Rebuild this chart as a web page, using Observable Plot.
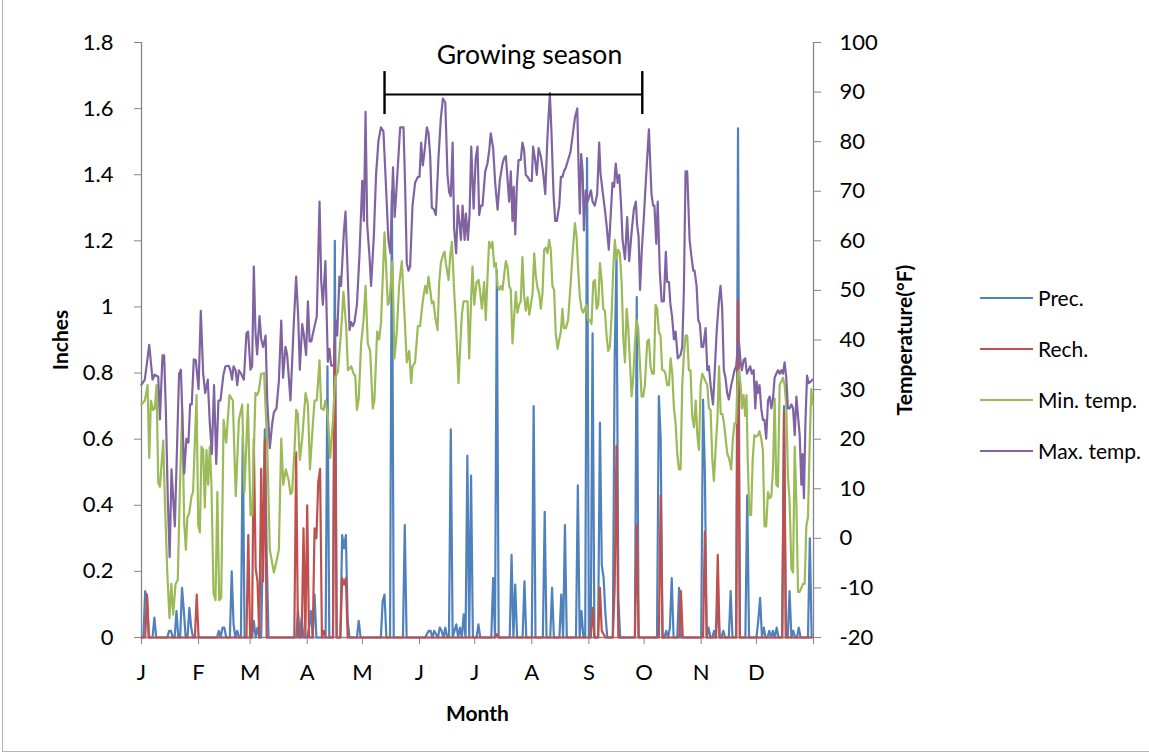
<!DOCTYPE html>
<html><head><meta charset="utf-8">
<script src="https://cdn.jsdelivr.net/npm/d3@7"></script>
<script src="https://cdn.jsdelivr.net/npm/@observablehq/plot@0.6"></script>
<style>
html,body{margin:0;padding:0;background:#fff;}
#wrap{position:relative;width:1149px;height:755px;overflow:hidden;font-family:Lato,sans-serif;}
#frame{position:absolute;left:2px;top:-2px;width:1170px;height:754px;border:1px solid #b4b4b4;box-sizing:border-box;pointer-events:none;}
#legend{position:absolute;left:0;top:0;}
.row{position:absolute;left:980px;height:24px;line-height:24px;font-size:21px;color:#000;white-space:nowrap;}
.row span.sw{position:absolute;left:0;top:11px;width:53px;height:2px;}
.row span.tx{position:absolute;left:58px;top:0;}
</style></head>
<body><div id="wrap"><div id="chart"></div><div id="legend"></div><div id="frame"></div></div>
<script>
// ---- categories / ticks ----
const monthStarts = [0,31,59,90,120,151,181,212,243,273,304,334,365];
const monthLabels = ["J","F","M","A","M","J","J","A","S","O","N","D",""];
const inchTicks = [0,0.2,0.4,0.6,0.8,1,1.2,1.4,1.6,1.8];
const inchTickLabels = ["0","0.2","0.4","0.6","0.8","1","1.2","1.4","1.6","1.8"];
const tempTicks = [-20,-10,0,10,20,30,40,50,60,70,80,90,100];
const tempTickLabels = ["-20","-10","0","10","20","30","40","50","60","70","80","90","100"];
const seriesNames = ["Prec.","Rech.","Min. temp.","Max. temp."];
const seriesColors = ["#4F81BD","#C0504D","#9BBB59","#8064A2"];
const growingSeason = [132, 272]; // day of year
const growingLabel = "Growing season";

// ---- daily precipitation (inches): [day, value]; all other days 0 ----
const precDays = [[2,0.14],[3,0.12],[7,0.06],[15,0.02],[16,0.02],[19,0.08],[22,0.15],[23,0.08],[26,0.09],[27,0.03],[42,0.02],[44,0.03],[45,0.03],[49,0.2],[50,0.04],[52,0.02],[55,0.61],[61,0.05],[63,0.03],[66,0.3],[67,0.63],[68,0.25],[85,0.08],[87,0.06],[91,0.03],[92,0.08],[94,0.13],[101,0.82],[105,1.2],[109,0.31],[110,0.27],[111,0.31],[112,0.05],[118,0.05],[131,0.11],[132,0.13],[136,1.35],[143,0.34],[155,0.01],[156,0.02],[157,0.02],[159,0.02],[160,0.01],[162,0.03],[163,0.02],[165,0.03],[168,0.63],[170,0.02],[171,0.04],[173,0.03],[175,0.07],[177,0.55],[179,0.49],[183,0.04],[191,0.18],[193,1.11],[201,0.25],[203,0.16],[208,0.17],[213,0.7],[219,0.38],[223,0.15],[228,0.13],[230,0.34],[237,0.46],[239,0.08],[242,1.45],[245,0.92],[249,0.65],[250,0.22],[251,0.18],[252,0.07],[257,0.84],[258,1.15],[259,0.12],[269,1.03],[281,0.73],[282,0.6],[285,0.02],[287,0.03],[288,0.18],[292,0.15],[305,0.72],[306,0.5],[308,0.03],[311,0.02],[313,0.12],[316,0.02],[320,0.14],[324,1.54],[329,0.43],[335,0.05],[336,0.12],[338,0.03],[341,0.02],[343,0.02],[345,0.03],[349,0.7],[352,0.14],[354,0.02],[357,0.03],[363,0.3]];
// ---- daily recharge (inches): [day, value]; all other days 0 ----
const rechDays = [[3,0.13],[30,0.13],[58,0.31],[61,0.6],[62,0.21],[63,0.17],[65,0.51],[66,0.17],[67,0.6],[84,0.56],[88,0.33],[90,0.4],[94,0.33],[95,0.3],[96,0.47],[97,0.51],[99,0.02],[105,0.9],[109,0.18],[110,0.16],[111,0.18],[193,0.01],[245,0.09],[249,0.15],[250,0.02],[251,0.01],[257,0.15],[258,0.58],[269,0.34],[282,0.43],[293,0.14],[306,0.32],[313,0.25],[324,1.02],[349,0.68]];
// ---- min temperature (°F): [day, value] ----
const minTemp = [[0,27],[1.8,27.8],[3.3,30.9],[4.2,16.2],[5.1,27.8],[6.3,25.9],[7.2,26.2],[8.2,30.9],[9.1,11.2],[10,10.4],[11.8,19.7],[12.7,7.7],[14,-6.9],[15.2,-16.1],[16.2,-9.2],[17.2,-15.4],[18.5,-9.2],[19.7,-8.4],[20.8,9.3],[22.1,25.9],[23.2,3.1],[24.1,-2.3],[24.9,4.2],[25.9,5],[27.2,8.5],[28,9.3],[29.9,28.9],[30.8,2.7],[31.7,1.2],[32.6,18.5],[33.5,17.8],[34.4,6.2],[35.3,17.8],[36.2,10.8],[37.1,18.5],[38,10.8],[39.1,-11],[40.2,-12.5],[41.2,9.3],[42.2,-12.5],[43.3,-12],[44.6,23.9],[46,19.3],[47.8,28.9],[49.6,27.8],[51.2,8.5],[52.9,23.9],[54.7,27],[55.9,9.3],[57.8,27],[59.2,4.7],[60.1,4.7],[61.9,29.3],[62.8,28.9],[63.7,29.7],[65,33.2],[66.6,33.3],[68.3,18.5],[69.7,-2.3],[71,-5],[71.9,-6.9],[73.3,-4.6],[74.6,-2.3],[75.9,20.1],[77,10.8],[78.4,13.9],[80,11.6],[80.9,8.9],[81.8,9.3],[83.1,17.8],[84,25.9],[84.9,25.1],[86,15.8],[87.3,20.1],[89.1,29.3],[90.4,27],[91.5,13.9],[93.1,23.2],[94,27.8],[95.2,27.8],[96.7,35.9],[97.6,26.2],[98.9,25.9],[99.9,27.8],[101.2,24.7],[102.5,16.2],[104,23.9],[105.2,32.4],[106.7,33.6],[108.4,41.7],[109.7,49.7],[111.2,42.4],[112.1,33.9],[113.9,34.7],[115.2,33.2],[116.1,32.8],[117,25.9],[118,28.2],[119.3,39.3],[120.6,44],[121.7,50.9],[122.9,39.3],[124.2,37.8],[125.6,26.2],[126.5,27.8],[128,41.7],[129.1,40.1],[130.1,43.6],[132,61.7],[133.8,47.1],[134.7,47.8],[136.3,55.9],[137.4,36.3],[138.7,41.7],[139.9,50.9],[141.4,55.9],[142.9,44.7],[144.1,35.5],[145.4,37.8],[146.5,31.3],[147.2,34.7],[148.6,35.5],[150.1,42.8],[151.3,42.8],[152.3,46.3],[153.2,49],[154.1,50.9],[155,49.4],[155.9,52.8],[156.8,50.1],[157.7,47.4],[158.6,47.8],[159.5,44.7],[160.8,42],[161.7,51.7],[162.6,55.5],[163.7,57.1],[164.6,57.8],[165.3,55.5],[166.8,52.1],[167.7,57.1],[168.6,59.8],[169.8,50.1],[170.9,42.4],[172.2,31.3],[173.1,38.6],[174,45.1],[174.9,47.8],[176.2,47.8],[177.1,47.8],[178,36.3],[179.1,49],[179.8,54.8],[180.7,47.1],[182,51.7],[183.1,52.1],[183.8,50.1],[184.9,46.3],[186.1,51.7],[187,44],[187.9,52.4],[188.8,59.8],[189.7,58.6],[190.6,59.8],[191.6,54.8],[192.5,55.5],[193.4,50.9],[194.3,50.1],[195.2,50.9],[196.1,50.1],[197,53.2],[197.9,55.9],[198.8,54.8],[199.7,50.9],[200.6,50.1],[201.5,39.3],[202.4,44.7],[203.3,49.7],[204.2,45.5],[205.1,47.1],[206,47.8],[206.9,56.7],[207.8,49],[208.7,45.9],[209.7,48.6],[210.6,45.1],[211.5,47.1],[212.4,49.4],[213.3,57.5],[214.2,52.8],[215.1,50.5],[216,49.4],[216.9,46.3],[217.8,49.4],[218.7,58.2],[219.6,58.6],[220.5,57.5],[221.4,60.2],[222.3,58.2],[223.2,50.9],[224.1,50.1],[225,41.3],[226,38.2],[226.9,40.1],[227.8,41.7],[228.6,46.3],[229.4,42.4],[230.5,42.4],[231.7,44],[233,50.9],[234.1,57.1],[235.4,63.6],[236.3,60.9],[237.2,54],[238.1,48.6],[239,46.3],[239.9,45.5],[240.8,46.3],[241.7,47.1],[242.6,44],[243.5,44],[244.4,43.2],[245.4,51.7],[246.3,52.1],[247.2,46.3],[248.1,47.1],[249,55.5],[249.9,52.1],[250.8,46.3],[251.7,45.9],[252.6,40.9],[253.5,37.8],[254.4,38.6],[255.3,44.7],[256.2,54],[257.1,60.2],[258,56.3],[258.9,58.2],[259.8,57.5],[260.8,51.7],[261.7,40.1],[262.6,35.5],[263.5,46.3],[264.4,42.4],[265.3,35.5],[266.2,28.6],[267.1,32.4],[268,39.3],[268.9,44],[269.8,42.4],[270.7,35.5],[271.6,28.6],[272.5,28.6],[273.4,30.9],[274.7,39.7],[275.6,40.1],[276.5,34.7],[277.4,33.2],[278.3,33.2],[279.2,47.1],[280.1,46.3],[281,41.7],[281.9,40.9],[282.8,33.9],[283.7,33.9],[284.6,33.2],[285.5,30.9],[286.5,30.9],[287.4,36.3],[288.3,33.2],[289.2,26.2],[290.1,23.2],[291,17],[291.9,13.9],[292.8,13.9],[293.7,30.9],[294.6,37],[295.5,40.9],[296.4,40.9],[297.3,33.9],[298.2,33.9],[299.1,24.7],[300.1,22.4],[301,27.8],[301.9,20.8],[302.8,17.8],[303.7,30.9],[304.6,33.2],[305.5,32.4],[306.4,31.6],[307.3,30.9],[308.2,26.2],[309.1,25.9],[310,16.2],[310.9,11.6],[311.9,18.5],[312.8,23.9],[313.7,34.7],[314.6,25.1],[315.5,25.1],[316.4,23.2],[317.3,20.1],[318.2,17],[319.1,16.2],[320.3,13.9],[321.2,20.1],[322.1,23.2],[323,23.2],[323.9,33.2],[324.6,33.9],[325.4,30.9],[326.1,26.2],[327,28.9],[327.9,24.7],[328.6,28.9],[329.3,15.5],[330.2,4.7],[331.1,4.7],[332,16.2],[332.9,20.8],[333.8,20.5],[334.8,20.8],[335.7,21.6],[336.6,20.1],[337.5,17.8],[338.4,2.4],[339.3,2.4],[340.3,9.3],[341.2,8.1],[342.1,8.5],[343,13.9],[343.9,28.2],[344.8,10.8],[345.7,10.4],[346.6,30.9],[347.5,31.6],[348.4,32.4],[349.3,30.9],[350.2,27],[351.1,12.4],[352,7.7],[353,-6.1],[353.9,-6.9],[354.8,18.5],[355.7,7],[356.6,-10.8],[357.5,-10.8],[358.4,-10],[359.3,-9.2],[360.2,-9.2],[361.1,2.4],[362,4.3],[362.9,18.5],[363.8,30.1],[364.5,27]];
// ---- max temperature (°F): [day, value] ----
const maxTemp = [[0,31],[1.8,32],[4.2,39],[6,32],[7.2,33],[9.1,32.6],[10,24],[11.4,36.9],[12.3,36.9],[13.2,26.2],[14.3,7.7],[15.3,-3.8],[16.3,13.9],[18.1,2.4],[20.4,33.2],[21.4,34],[23.2,13.1],[24.4,20.1],[25.5,19.3],[26.4,27],[27.3,27],[28.4,36.1],[29.5,35.9],[31,30.1],[32.2,45.9],[33.5,33.2],[34.6,29.3],[36,32],[37.1,23.2],[38.2,17],[39.4,30.9],[40.6,15],[41.8,27.8],[42.9,27.8],[44.5,33],[45.6,34.7],[47.4,34.8],[48.3,33.9],[49.2,32],[50,34.7],[51.1,33.9],[52,30.9],[52.9,33.9],[54.1,33.2],[55.6,32],[57,41.3],[57.9,41.7],[59.2,34],[60.1,34.7],[61,54.8],[61.9,41.7],[62.8,37.1],[64.1,44.8],[65,40.2],[66.1,38.6],[67.4,40.9],[68.3,27.8],[69.7,18.2],[71,23.2],[71.9,25.4],[73.3,26.2],[74.6,31.6],[75.9,43.9],[76.9,32.4],[78.2,38.6],[79.1,37.1],[80.9,27.8],[81.8,35.5],[82.7,43.2],[84,52.8],[85.1,44.8],[86,34],[87.3,43.2],[88.2,41],[89.4,37],[90.4,47.8],[91.3,39.7],[92.2,39.7],[94,42.8],[95.2,44.7],[96.7,67.9],[97.6,52],[98.5,47.1],[99.9,55.9],[101.2,35.6],[102.1,38.2],[103,34.9],[104.5,34.7],[105.4,44],[106.3,40.9],[107.5,52.8],[108.4,50.9],[109.9,61.7],[110.8,65.9],[112.1,52.4],[113,42],[113.9,43.6],[114.8,42.8],[115.7,43.6],[117,47.1],[118.4,57.1],[119.9,72.1],[120.8,64],[121.7,86],[122.6,63.2],[123.8,57.1],[124.7,50.9],[126.2,60.9],[127.4,73.3],[128.7,80.2],[130.1,82.9],[131.4,82.1],[132.9,70.2],[134.1,60.2],[135.2,57.5],[135.9,66.3],[136.6,74.8],[137.5,64.8],[138.2,68.6],[139.2,74.8],[140.5,82.9],[142.3,82.9],[143.2,70.9],[144.1,55.5],[145,54],[145.9,54.8],[147.2,67.1],[148.6,71.7],[150.1,72.9],[151,72.9],[151.9,79.8],[152.8,75.2],[153.7,77.9],[155,82.9],[155.9,81.7],[156.8,77.1],[157.7,66.7],[158.9,66.3],[159.9,65.2],[161.3,76.7],[162.6,84.8],[163.7,88.7],[165,87.9],[166.2,73.3],[167.1,69.8],[168,69],[169,79.8],[169.8,62.5],[170.9,57.5],[171.8,67.1],[172.7,63.6],[173.5,60.2],[174.4,67.1],[175.5,60.2],[176.2,65.5],[177.3,60.2],[178.2,65.5],[179.1,79],[180.4,66.5],[181.5,76.5],[182.5,79],[183.4,65.2],[184.3,67.1],[185.2,67.1],[186.7,74],[187.9,75.6],[188.9,78.3],[189.7,81.7],[191,78.7],[192.1,71.7],[193.4,66.3],[194.6,72.1],[196.1,75.6],[197,76.7],[197.9,77.1],[198.8,72.5],[199.7,67.9],[200.6,74],[201.5,64],[202.2,70.9],[203,61.3],[203.9,71.3],[204.8,76.3],[206,76.3],[206.9,79.8],[207.8,78.3],[208.7,73.3],[209.7,72.9],[210.9,72.1],[212,72.1],[212.7,79],[213.8,76.3],[214.7,73.3],[215.7,78.7],[216.9,77.1],[218.1,74],[219.3,69.4],[220.5,81],[221.8,89.8],[222.7,81.7],[223.8,69.4],[224.7,64],[225.6,64],[226.9,67.1],[227.8,72.9],[228.7,72.9],[229.4,74],[230.5,74.8],[231.7,76.3],[233,77.9],[234.1,81],[235.4,84.8],[236.7,86.7],[237.4,74.8],[238.1,65.5],[238.8,77.5],[239.6,74],[240.3,62.1],[241.3,70.2],[242.3,67.9],[243.2,69],[244.1,70.2],[245,67.9],[246.2,67.1],[247.5,69.4],[248.6,79.8],[249.3,73.6],[250.4,70.2],[251.7,66.3],[252.6,63.2],[253.8,58.2],[254.8,64.8],[255.8,71.7],[256.7,70.9],[257.6,75.6],[258.6,71.7],[259.5,73.3],[260.4,67.9],[261.3,60.2],[262.6,56.3],[263.8,64.8],[264.9,55.9],[266.2,61.7],[267.4,66.3],[268.5,67.9],[269.2,63.2],[270,60.9],[270.8,50.1],[271.7,57.8],[272.9,65],[274,72.5],[275.6,82.5],[277,69.4],[277.9,67.1],[278.6,67.1],[279.6,59.4],[280.4,67.9],[281.5,54],[282.5,47.8],[283.7,47.8],[284.8,57.8],[285.5,51.7],[286.5,51.7],[287.3,47.1],[288.2,44.7],[289.2,40.1],[290.1,41.7],[291.3,36.3],[292.8,37],[293.7,38.6],[294.6,50.1],[295.5,74],[296.4,74],[297.7,60.2],[298.6,57.1],[299.7,54],[300.4,54],[301.5,50.9],[302.4,44],[303.3,43.2],[304.2,38.6],[305.1,38.6],[306.4,42.4],[307.3,33.9],[308.2,34.7],[309.1,30.9],[310.4,27],[311.3,33.2],[312.4,41.7],[313.6,47.8],[314.5,50.9],[315.4,46.3],[316.3,33.9],[317.2,32.4],[318.1,29.3],[319,28],[320.3,30.9],[321.2,32.4],[322.1,33.9],[323,34.7],[323.9,38.6],[324.6,39.3],[325.4,35.5],[326.1,33.9],[327,35.9],[327.9,36.3],[328.8,33.2],[329.7,33.9],[330.6,34.7],[331.5,33.2],[332.5,33.9],[333.4,26.2],[334.1,31.6],[334.8,29.3],[335.7,30.9],[336.6,26.2],[337.5,23.9],[338.4,23.9],[339.3,20.1],[340.3,27.8],[341.2,28.6],[342.1,26.2],[343,28.2],[343.9,32.4],[344.8,33.2],[345.7,33.9],[346.6,33.2],[347.5,33.9],[348.4,33.2],[349.3,35.5],[350.2,32.4],[351.1,26.2],[352,26.2],[353,27],[353.9,26.2],[354.8,20.8],[355.7,28.6],[356.6,24.7],[357.5,20.8],[358.4,10.8],[359.1,17],[359.8,8.1],[360.6,23.2],[361.5,32.8],[362.4,31.3],[363.5,31.6],[364.4,32]];

// ---- build tables ----
const days = d3.range(0, 365);
const pm = new Map(precDays), rm = new Map(rechDays);
const prec = days.map(d => ({day: d, v: pm.get(d) ?? 0}));
const rech = days.map(d => ({day: d, v: rm.get(d) ?? 0}));
// temperature axis (right) is mapped onto the inches scale: -20°F ↔ 0 in, 100°F ↔ 1.8 in
const toIn = t => (t + 20) * 1.8 / 120;
const minT = minTemp.map(([d, t]) => ({day: d, v: toIn(t)}));
const maxT = maxTemp.map(([d, t]) => ({day: d, v: toIn(t)}));

const grey = "#868686";
const chart = Plot.plot({
  width: 1149, height: 755,
  marginLeft: 141, marginRight: 336, marginTop: 42, marginBottom: 118,
  x: {domain: [0, 365]},
  y: {domain: [0, 1.8]},
  style: {fontFamily: "Lato, sans-serif", fontSize: "22px", color: "#000", background: "transparent", overflow: "visible"},
  marks: [
    Plot.ruleX([0, 365], {stroke: grey, strokeWidth: 1.3}),
    Plot.ruleY([0], {stroke: grey, strokeWidth: 1.3}),
    Plot.axisY({anchor: "left", ticks: inchTicks, tickFormat: d => inchTickLabels[inchTicks.indexOf(d)], tickSize: 7, tickPadding: 21, stroke: grey, fill: "#000", fontSize: 22, label: null}),
    Plot.axisY({anchor: "right", ticks: tempTicks.map(toIn), tickFormat: d => tempTickLabels[Math.round(d / 0.15)], tickSize: 7, tickPadding: 19, stroke: grey, fill: "#000", fontSize: 22, label: null}),
    Plot.axisX({ticks: monthStarts, tickFormat: d => monthLabels[monthStarts.indexOf(d)], tickSize: 7, tickPadding: 20, stroke: grey, fill: "#000", fontSize: 22, label: null}),
    Plot.line(prec, {x: "day", y: "v", stroke: seriesColors[0], strokeWidth: 2.2}),
    Plot.line(rech, {x: "day", y: "v", stroke: seriesColors[1], strokeWidth: 2.2}),
    Plot.line(minT, {x: "day", y: "v", stroke: seriesColors[2], strokeWidth: 2.2}),
    Plot.line(maxT, {x: "day", y: "v", stroke: seriesColors[3], strokeWidth: 2.2}),
    // growing season bracket
    Plot.ruleY([1.6427], {x1: growingSeason[0], x2: growingSeason[1], stroke: "#000", strokeWidth: 1.8}),
    Plot.ruleX(growingSeason, {y1: 1.582, y2: 1.712, stroke: "#000", strokeWidth: 2.4}),
    Plot.text([growingLabel], {x: 210.7, y: 1.735, lineAnchor: "bottom", textAnchor: "middle", fontSize: 26.5, fill: "#000"}),
    // axis titles
    Plot.text(["Inches"], {frameAnchor: "left", dx: -80, rotate: -90, textAnchor: "middle", lineAnchor: "middle", fontWeight: "bold", fontSize: 21, fill: "#000"}),
    Plot.text(["Temperature(°F)"], {frameAnchor: "right", dx: 92, rotate: -90, textAnchor: "middle", lineAnchor: "middle", fontWeight: "bold", fontSize: 21, fill: "#000"}),
    Plot.text(["Month"], {frameAnchor: "bottom", dy: 83, textAnchor: "middle", lineAnchor: "bottom", fontWeight: "bold", fontSize: 21, fill: "#000"})
  ]
});
document.getElementById("chart").appendChild(chart);

// legend
const legendY = [299, 350, 400.7, 451.7];
const leg = document.getElementById("legend");
seriesNames.forEach((name, i) => {
  const row = document.createElement("div");
  row.className = "row";
  row.style.top = (legendY[i] - 12.6) + "px";
  row.innerHTML = `<span class="sw" style="background:${seriesColors[i]}"></span><span class="tx">${name}</span>`;
  leg.appendChild(row);
});
</script></body></html>
